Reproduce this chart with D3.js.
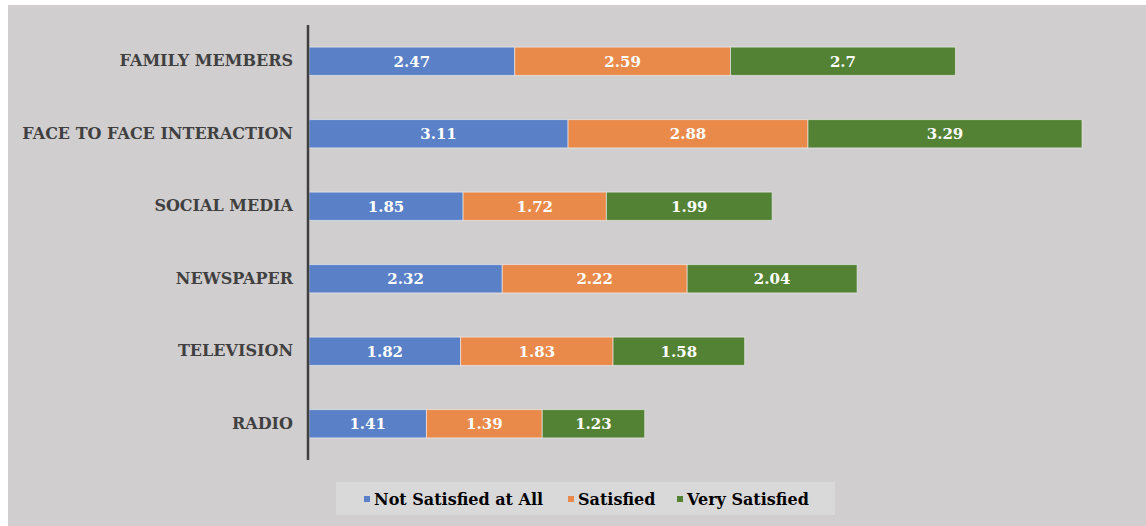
<!DOCTYPE html>
<html>
<head>
<style>
  body { margin: 0; background: #ffffff; }
  svg { display: block; }
</style>
</head>
<body>
    <div id="vizDiv"></div>

    <script src="https://cdnjs.cloudflare.com/ajax/libs/d3/7.8.5/d3.min.js"></script>
    <script>
        // chart data
        const categories = ["FAMILY MEMBERS", "FACE TO FACE INTERACTION", "SOCIAL MEDIA", "NEWSPAPER", "TELEVISION", "RADIO"];
        const seriesNames = ["Not Satisfied at All", "Satisfied", "Very Satisfied"];
        const notSatisfied = [2.47, 3.11, 1.85, 2.32, 1.82, 1.41];
        const satisfied = [2.59, 2.88, 1.72, 2.22, 1.83, 1.39];
        const verySatisfied = [2.7, 3.29, 1.99, 2.04, 1.58, 1.23];
        const colors = ["#5a80c7", "#e98a4b", "#548235"];

        const width = 1146, height = 526;
        const font = "'DejaVu Serif', 'Liberation Serif', serif";

        const svg = d3.select("#vizDiv")
            .append("svg")
            .attr("width", width)
            .attr("height", height);

        // plot background (white border round it)
        svg.append("rect")
            .attr("x", 8).attr("y", 5)
            .attr("width", width - 8).attr("height", height - 5)
            .attr("fill", "#d0cecf");

        // build rows for stacking
        const rows = categories.map((c, i) => ({
            cat: c,
            s0: notSatisfied[i],
            s1: satisfied[i],
            s2: verySatisfied[i]
        }));
        const stack = d3.stack().keys(["s0", "s1", "s2"])(rows);

        const x = d3.scaleLinear().domain([0, 10]).range([309, 1142]);
        const y = d3.scaleBand().domain(categories).range([25, 460])
            .paddingInner(0.61).paddingOuter(0.305);

        // series layers
        const layers = svg.selectAll(".layer")
            .data(stack)
            .enter().append("g")
            .attr("class", "layer")
            .attr("fill", (d, i) => colors[i]);

        layers.selectAll("rect")
            .data(d => d)
            .enter().append("rect")
            .attr("x", d => x(d[0]))
            .attr("y", d => y(d.data.cat))
            .attr("width", d => x(d[1]) - x(d[0]))
            .attr("height", y.bandwidth())
            .attr("stroke", "#f2f2f2")
            .attr("stroke-opacity", 0.6)
            .attr("stroke-width", 1);

        // value labels
        layers.selectAll("text")
            .data(d => d)
            .enter().append("text")
            .attr("x", d => (x(d[0]) + x(d[1])) / 2)
            .attr("y", d => y(d.data.cat) + y.bandwidth() / 2)
            .attr("dy", "0.35em")
            .attr("text-anchor", "middle")
            .style("font-family", font)
            .style("font-weight", "bold")
            .style("font-size", "15px")
            .attr("fill", "#ffffff")
            .text(d => +(d[1] - d[0]).toFixed(2));

        // category axis
        const yAxis = svg.append("g")
            .attr("transform", "translate(308,0)")
            .call(d3.axisLeft(y).tickSize(0).tickPadding(15));
        yAxis.select(".domain")
            .attr("d", "M0,25V460")
            .attr("stroke", "#404040")
            .attr("stroke-width", 2.5);
        yAxis.selectAll("text")
            .style("font-family", font)
            .style("font-weight", "bold")
            .style("font-size", "16px")
            .attr("fill", "#404040");

        // legend
        svg.append("rect")
            .attr("x", 336).attr("y", 482)
            .attr("width", 499).attr("height", 33)
            .attr("fill", "#d9d9d9");

        const legendX = [367, 571, 680];
        const legend = svg.selectAll(".legend")
            .data(seriesNames)
            .enter().append("g")
            .attr("class", "legend")
            .attr("transform", (d, i) => `translate(${legendX[i]},499)`);
        legend.append("rect")
            .attr("x", -3).attr("y", -3)
            .attr("width", 6).attr("height", 6)
            .attr("fill", (d, i) => colors[i]);
        legend.append("text")
            .attr("x", 7)
            .attr("dy", "0.35em")
            .style("font-family", font)
            .style("font-weight", "bold")
            .style("font-size", "16px")
            .attr("fill", "#000000")
            .text(d => d);
    </script>
</body>
</html>
